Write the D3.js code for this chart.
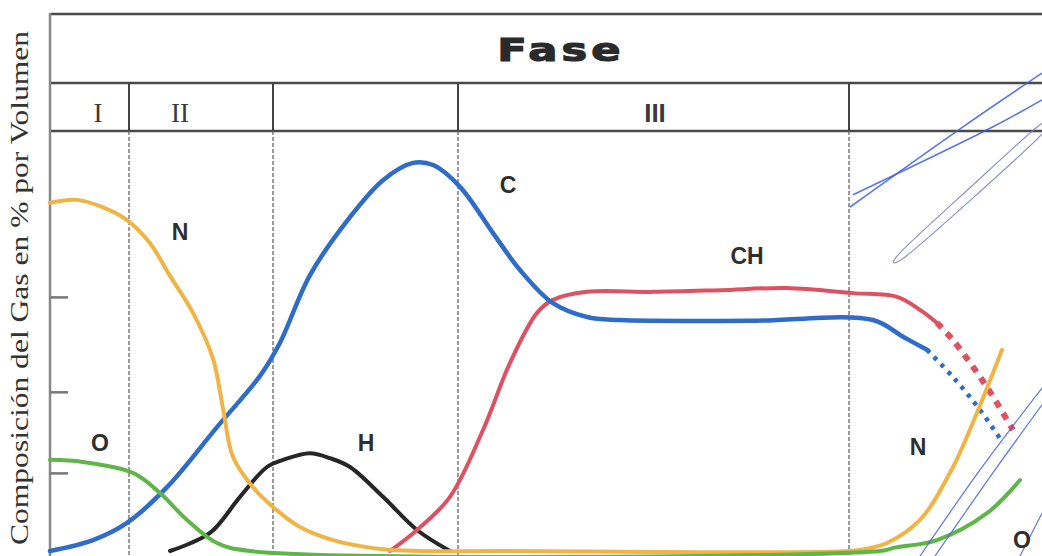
<!DOCTYPE html>
<html lang="es">
<head>
    <meta charset="UTF-8">
    <title>Fase - Composición del Gas</title>
    <script type="text/javascript" src="https://cdnjs.cloudflare.com/ajax/libs/d3/7.8.5/d3.min.js"></script>
    <style>
        body { margin: 0; background: #fff; }
        svg { display: block; }
    </style>
</head>
<body>
<div id="chart"></div>
<script>
    // x = tiempo (unidades relativas 0..100), y = % por volumen
    var phaseBounds = [7.9, 22.3, 40.8, 79.9];
    var phaseLabels = ["I", "II", "III"];
    var phaseLabelX = [4.8, 13, 60.5];
    var yTicks = [18.6, 37.9, 60.5];

    var seriesN = [[0, 82.9], [2.7, 83.6], [5, 82.1], [7.7, 78.8], [10, 73.3], [12, 65.5], [14.3, 56.7],
        [16.3, 45.8], [17.3, 33.9], [18.3, 22.4], [20.3, 15.2], [22.3, 10.5], [25, 5.7], [28.3, 2.6],
        [33.3, 0.4], [37, 0], [45, 0], [80, 0], [82, 0.7], [83.7, 1.9], [87, 7.4], [90.3, 20],
        [92.7, 32.9], [94.3, 42.4], [95.2, 47.9]];
    var seriesC = [[0, 0], [4.3, 2.6], [7.7, 6.7], [11.7, 15.2], [16.7, 29.5], [21, 41.7], [23, 49.6],
        [26, 65.7], [30, 79.5], [33.3, 88.3], [36.3, 92.4], [38.3, 91.9], [41, 86.7], [44.3, 75.7],
        [47, 66.9], [50.3, 59], [53.7, 55.7], [57, 55], [70, 54.8], [82.3, 55], [85.3, 51], [87.7, 47.9]];
    var seriesCdots = [[87.7, 47.9], [90.3, 41.4], [93, 33.6], [95.3, 25.7]];
    var seriesCH = [[34, 0], [36.7, 5], [40, 12.9], [43.3, 28.8], [46, 44.8], [48.7, 56.7], [50.3, 59.8],
        [53.7, 61.7], [60.3, 61.7], [67, 62.1], [73.7, 62.6], [80.3, 61.4], [84.7, 60.5], [87, 57.4],
        [88.7, 54.3]];
    var seriesCHdash = [[88.7, 54.3], [90.3, 50.2], [93.7, 39], [96.3, 28.8]];
    var seriesH = [[12, 0], [16, 4.3], [19, 12.9], [21.7, 20], [23.3, 21.7], [26, 23.3], [28, 22.1],
        [30, 20], [33.3, 12.9], [36.7, 5], [40, 0]];
    var seriesO = [[0, 21.7], [3.3, 21.2], [8.3, 18.6], [11, 13.8], [13.7, 7.4], [16.7, 1.9], [20, 0],
        [83, 0], [84.5, 0.8], [88.7, 2.6], [93.7, 9], [97, 16.9]];

    var curveLabels = [
        {t: "N", x: 13, y: 76}, {t: "C", x: 45.8, y: 87.1}, {t: "CH", x: 69.7, y: 70.2},
        {t: "O", x: 5, y: 25.7}, {t: "H", x: 31.6, y: 25.7}, {t: "N", x: 86.8, y: 24.8},
        {t: "O", x: 97.2, y: 2.6}
    ];

    // trazos de boligrafo azul sobre la hoja
    var penStrokes = [
        [[80, 81.9], [91.3, 101], [99.2, 113.8]],
        [[80.3, 84.8], [94.3, 101], [99.2, 107.4]],
        [[87, -1.2], [93, 19.3], [99.2, 38.8]],
        [[88.5, -1.2], [94.5, 19.3], [99.2, 34.8]],
        [[97, -1.2], [99.2, 9]]
    ];
    var penLoop = [[85, 71], [92, 86.5], [99, 101.5], [99.3, 99.5], [92.5, 84.5], [85.5, 70]];

    var width = 1042, height = 556;

    var x = d3.scaleLinear().domain([0, 100]).range([50, 1050]);
    var y = d3.scaleLinear().domain([0, 100]).range([551, 131]);

    var svg = d3.select("#chart")
        .append("svg")
        .attr("width", width)
        .attr("height", height);

    // cabecera
    var frame = svg.append("g").attr("stroke", "#4a4a4a").attr("stroke-width", 2.5);
    [14, 83, 131].forEach(function(yy) {
        frame.append("line").attr("x1", 50).attr("x2", width).attr("y1", yy).attr("y2", yy);
    });
    frame.append("line").attr("x1", 50).attr("x2", 50).attr("y1", 13).attr("y2", height)
        .attr("stroke", "#888").attr("stroke-width", 2.5);

    phaseBounds.forEach(function(b) {
        svg.append("line")
            .attr("x1", x(b)).attr("x2", x(b)).attr("y1", 83).attr("y2", 131)
            .attr("stroke", "#444").attr("stroke-width", 2);
        svg.append("line")
            .attr("x1", x(b)).attr("x2", x(b)).attr("y1", 131).attr("y2", height)
            .attr("stroke", "#666").attr("stroke-width", 1.3)
            .attr("stroke-dasharray", "4,2");
    });

    svg.append("text")
        .attr("transform", "translate(561,61) scale(1.35,1)")
        .attr("text-anchor", "middle")
        .style("font-family", "'DejaVu Sans', sans-serif")
        .style("font-weight", "bold")
        .style("font-size", "32px")
        .style("letter-spacing", "3px")
        .attr("fill", "#2a2a2a")
        .attr("stroke", "#2a2a2a")
        .attr("stroke-width", 1.2)
        .text("Fase");

    phaseLabels.forEach(function(t, i) {
        svg.append("text")
            .attr("x", x(phaseLabelX[i])).attr("y", 122)
            .attr("text-anchor", "middle")
            .style("font-family", i < 2 ? "'Liberation Serif', serif" : "'Liberation Sans', sans-serif")
            .style("font-weight", i < 2 ? "normal" : "bold")
            .style("font-size", i < 2 ? "27px" : "26px")
            .attr("fill", "#3a3a3a")
            .text(t);
    });

    // marcas del eje y (sin etiquetas)
    svg.append("g")
        .attr("transform", "translate(50,0)")
        .call(d3.axisRight(y).tickValues(yTicks).tickSize(18).tickFormat(""))
        .call(function(g) {
            g.select(".domain").remove();
            g.selectAll("line").attr("stroke", "#777").attr("stroke-width", 2.5);
        });

    svg.append("text")
        .attr("transform", "translate(28,288) rotate(-90)")
        .attr("text-anchor", "middle")
        .style("font-family", "'Liberation Serif', serif")
        .style("font-size", "25px")
        .attr("fill", "#333")
        .attr("textLength", 514)
        .attr("lengthAdjust", "spacingAndGlyphs")
        .text("Composición del Gas en % por Volumen");

    var line = d3.line()
        .x(function(d) { return x(d[0]); })
        .y(function(d) { return y(d[1]); })
        .curve(d3.curveCatmullRom.alpha(0.5));

    var loop = d3.line()
        .x(function(d) { return x(d[0]); })
        .y(function(d) { return y(d[1]); })
        .curve(d3.curveCardinalClosed);

    function draw(data, color, w, dash) {
        svg.append("path")
            .attr("d", line(data))
            .attr("fill", "none")
            .attr("stroke", color)
            .attr("stroke-width", w)
            .attr("stroke-linecap", dash ? "butt" : "round")
            .attr("stroke-dasharray", dash || null);
    }

    draw(seriesH, "#262626", 4);
    draw(seriesCH, "#dc5263", 4);
    draw(seriesCHdash, "#e0505e", 6, "7,7");
    draw(seriesC, "#2e6cc7", 4.5);
    draw(seriesCdots, "#2e6cc7", 4.5, "4,6");
    draw(seriesN, "#f0b445", 4);
    draw(seriesO, "#5fb548", 4);

    penStrokes.forEach(function(s, i) {
        svg.append("path")
            .attr("d", line(s))
            .attr("fill", "none")
            .attr("stroke", "#3c5fe0")
            .attr("stroke-width", i < 2 ? 1.6 : 1.2)
            .attr("opacity", 0.85);
    });

    svg.append("path")
        .attr("d", loop(penLoop))
        .attr("fill", "none")
        .attr("stroke", "#7a80c0")
        .attr("stroke-width", 1.2)
        .attr("opacity", 0.85);

    svg.selectAll("text.lbl")
        .data(curveLabels)
        .enter().append("text")
        .attr("class", "lbl")
        .attr("x", function(d) { return x(d.x); })
        .attr("y", function(d) { return y(d.y); })
        .attr("dy", "0.36em")
        .attr("text-anchor", "middle")
        .style("font-family", "'Liberation Sans', Arial, sans-serif")
        .style("font-weight", "bold")
        .style("font-size", "23px")
        .attr("fill", "#2e2e2e")
        .text(function(d) { return d.t; });
</script>
</body>
</html>
